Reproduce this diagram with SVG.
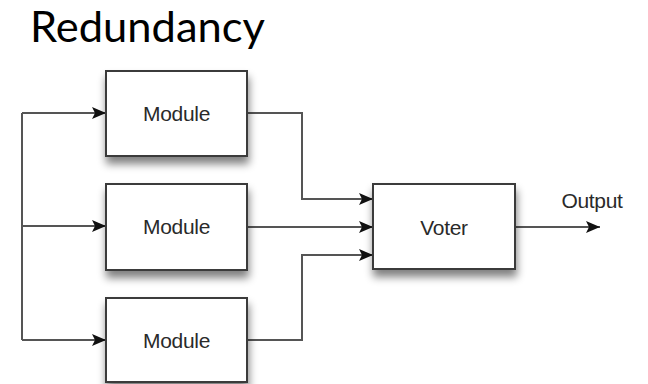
<svg xmlns="http://www.w3.org/2000/svg" width="648" height="384" viewBox="0 0 648 384">
  <style>
    .box { fill: #ffffff; stroke: #3a3a3a; stroke-width: 2; }
    .lbl { font-family: "Liberation Sans", Arial, sans-serif; font-size: 21px; fill: #2a2a2a; text-anchor: middle; letter-spacing: -0.3px; }
    .wire { fill: none; stroke: #555555; stroke-width: 2; }
    .title { font-family: Lato, "Open Sans", sans-serif; font-size: 42px; fill: #000000; }
  </style>
  <defs>
    <filter id="shadow" x="-20%" y="-20%" width="140%" height="160%">
      <feGaussianBlur in="SourceAlpha" stdDeviation="4"/>
      <feOffset dx="1" dy="7" result="blur"/>
      <feComponentTransfer><feFuncA type="linear" slope="0.5"/></feComponentTransfer>
      <feMerge><feMergeNode/><feMergeNode in="SourceGraphic"/></feMerge>
    </filter>
    <marker id="arrow" markerWidth="14" markerHeight="12" refX="14" refY="6" orient="auto" markerUnits="userSpaceOnUse">
      <path d="M0,0 L14,6 L0,12 L3,6 Z" fill="#111111"/>
    </marker>
  </defs>

  <text class="title" x="30" y="42" textLength="235" lengthAdjust="spacingAndGlyphs">Redundancy</text>

  <g id="connectors">
    <!-- input bus -->
    <path class="wire" d="M22,113 V340"/>
    <path class="wire" d="M22,113 H106" marker-end="url(#arrow)"/>
    <path class="wire" d="M22,226 H106" marker-end="url(#arrow)"/>
    <path class="wire" d="M22,340 H106" marker-end="url(#arrow)"/>
    <!-- module outputs to voter -->
    <path class="wire" d="M247,113 H302 V199 H373" marker-end="url(#arrow)"/>
    <path class="wire" d="M247,227 H373" marker-end="url(#arrow)"/>
    <path class="wire" d="M247,340 H302 V255 H373" marker-end="url(#arrow)"/>
    <!-- voter output -->
    <path class="wire" d="M515,227 H600" marker-end="url(#arrow)"/>
  </g>

  <g id="module1">
    <rect class="box" x="106" y="71" width="141" height="85" filter="url(#shadow)"/>
    <text class="lbl" x="176.5" y="121">Module</text>
  </g>
  <g id="module2">
    <rect class="box" x="106" y="184" width="141" height="86" filter="url(#shadow)"/>
    <text class="lbl" x="176.5" y="234">Module</text>
  </g>
  <g id="module3">
    <rect class="box" x="106" y="298" width="141" height="84" filter="url(#shadow)"/>
    <text class="lbl" x="176.5" y="348">Module</text>
  </g>
  <g id="voter">
    <rect class="box" x="373" y="184" width="142" height="85" filter="url(#shadow)"/>
    <text class="lbl" x="444" y="235">Voter</text>
  </g>
  <g id="output-label">
    <text class="lbl" x="592" y="208">Output</text>
  </g>
</svg>
